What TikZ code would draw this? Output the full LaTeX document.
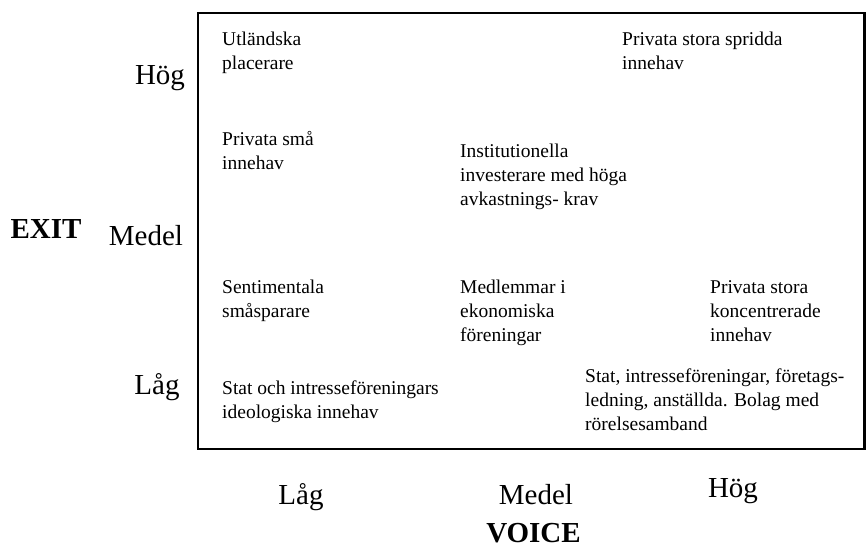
\documentclass[tikz,border=0pt]{standalone}
\usepackage{fontspec}
\setmainfont{Liberation Serif}
\begin{document}
\begin{tikzpicture}[x=1pt,y=-1pt,
  % multi-line cells are placed by the baseline of their last line
  cell/.style={anchor=base west, align=left, inner sep=0pt,
    font=\fontsize{19.5}{24}\selectfont},
  level/.style={anchor=base, inner sep=0pt, font=\fontsize{29}{34}\selectfont},
  axis/.style={anchor=base, inner sep=0pt, text depth=0pt,
    font=\fontsize{29}{34}\selectfont\bfseries}]
\useasboundingbox (0,0) rectangle (866,550);

% frame of the matrix
\draw[line width=2.6pt] (198,13) rectangle (864.5,449);

% vertical axis
\node[level] (exitHigh) at (160,84) {Hög};
\node[level] (exitMid) at (146,245) {Medel};
\node[level] (exitLow) at (157,394) {Låg};
\node[axis] (exit) at (46,238) {EXIT};

% horizontal axis
\node[level] (voiceLow) at (301,504) {Låg};
\node[level] (voiceMid) at (536,504) {Medel};
\node[level] (voiceHigh) at (733,497) {Hög};
\node[axis] (voice) at (533.5,542) {VOICE};

% owner groups
\node[cell] (c1) at (222,69) {Utländska\\placerare};
\node[cell] (c2) at (622,69) {Privata stora spridda\\innehav};
\node[cell] (c3) at (222,169) {Privata små\\innehav};
\node[cell] (c4) at (460,205) {Institutionella\\investerare med höga\\avkastnings- krav};
\node[cell] (c5) at (222,317) {Sentimentala\\småsparare};
\node[cell] (c6) at (460,341) {Medlemmar i\\ekonomiska\\föreningar};
\node[cell] (c7) at (710,341) {Privata stora\\koncentrerade\\innehav};
\node[cell] (c8) at (222,418) {Stat och intresseföreningars\\ideologiska innehav};
\node[cell] (c9) at (585,430) {Stat, intresseföreningar, företags-\\ledning, anställda. Bolag med\\rörelsesamband};
\end{tikzpicture}
\end{document}
